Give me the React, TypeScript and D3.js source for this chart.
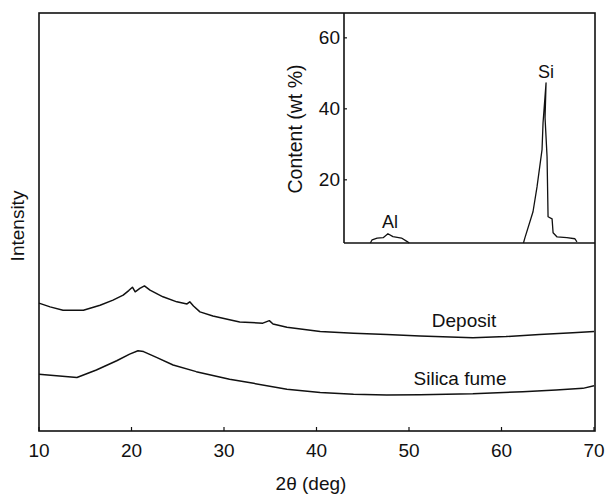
import React from 'react'
import * as d3 from 'd3'

// XRD patterns, 2theta (deg) vs. intensity (arb. units)
const depositTheta = [10, 11.2, 12.6, 14.8, 16.6, 18.0, 19.1, 19.7, 20.1, 20.4, 20.9, 21.4, 22.0, 23.4, 24.9, 26.0, 26.3, 26.7, 27.4, 28.8, 30.6, 31.7, 34.2, 34.9, 35.3, 36.8, 40.4, 44.0, 47.6, 51.2, 56.9, 60.5, 64.1, 67.7, 70]
const depositIntensity = [30.6, 29.7, 28.9, 28.9, 30.1, 31.3, 32.5, 33.6, 34.4, 33.3, 34.1, 34.7, 33.7, 32.1, 30.9, 30.4, 30.9, 29.9, 28.5, 27.5, 26.6, 26.1, 25.8, 26.4, 25.6, 24.8, 23.8, 23.4, 23.1, 22.7, 22.3, 22.6, 23.1, 23.5, 23.8]

const fumeTheta = [10, 11.9, 14.1, 16.2, 18.4, 19.8, 20.7, 21.3, 22.7, 24.5, 27.0, 30.6, 33.2, 36.8, 40.4, 44.0, 47.6, 51.2, 56.9, 62.3, 65.9, 68.8, 70]
const fumeIntensity = [13.6, 13.2, 12.8, 14.6, 16.8, 18.4, 19.2, 19.0, 17.6, 15.8, 14.2, 12.4, 11.4, 10.0, 9.2, 8.8, 8.6, 8.7, 8.9, 9.4, 9.8, 10.2, 10.8]

const thetaTicks = [10, 20, 30, 40, 50, 60, 70]

// inset: EDX composition scan (position in arb. units vs wt %)
const scanPos = [10.5, 11.2, 13.2, 15.6, 17.5, 19.5, 22.9, 25.2, 26.0, 71.5, 72.1, 75.3, 76.9, 78.9, 79.3, 80.5, 80.1, 80.9, 81.3, 82.9, 83.3, 84.9, 88.8, 92.0, 92.8]
const scanContent = [2.2, 3.1, 3.6, 3.7, 4.8, 4.0, 3.6, 2.6, 2.2, 2.2, 3.7, 11.0, 18.0, 28.5, 36.1, 47.3, 37.5, 26.5, 9.6, 9.0, 5.1, 3.9, 3.7, 3.4, 2.5]
const contentTicks = [20, 40, 60]

const font = 'Liberation Sans, Arial, Helvetica, sans-serif'

export default function App() {
  const width = 606
  const height = 496
  const left = 39, right = 595, top = 13, bottom = 431
  const insetLeft = 344, insetBottom = 243

  const x = d3.scaleLinear().domain([10, 70]).range([left, right - 1])
  const y = d3.scaleLinear().domain([0, 100]).range([bottom, top])

  const ix = d3.scaleLinear().domain([0, 100]).range([insetLeft, right])
  const iy = d3.scaleLinear().domain([2.2, 67]).range([insetBottom, top])

  const line = d3.line<[number, number]>()
    .x(d => x(d[0]))
    .y(d => y(d[1]))

  const insetLine = d3.line<[number, number]>()
    .x(d => ix(d[0]))
    .y(d => iy(d[1]))

  const deposit = depositTheta.map((t, i) => [t, depositIntensity[i]] as [number, number])
  const fume = fumeTheta.map((t, i) => [t, fumeIntensity[i]] as [number, number])
  const alScan = scanPos.slice(0, 9).map((p, i) => [p, scanContent[i]] as [number, number])
  const siScan = scanPos.slice(9).map((p, i) => [p, scanContent[i + 9]] as [number, number])

  return (
    <svg width={width} height={height} style={{ position: 'absolute', left: 0, top: 0 }} fontFamily={font}>
      <rect width={width} height={height} fill="#fff" />

      {/* main frame */}
      <rect x={left} y={top} width={right - left} height={bottom - top} fill="none" stroke="#111" strokeWidth={1.6} />
      {thetaTicks.map(t => (
        <g key={t}>
          <line x1={x(t)} x2={x(t)} y1={bottom} y2={bottom - 4} stroke="#111" strokeWidth={1.2} />
          <text x={x(t)} y={457} textAnchor="middle" fontSize={19} fill="#111">{t}</text>
        </g>
      ))}
      <text x={311} y={490} textAnchor="middle" fontSize={19} fill="#111">2θ (deg)</text>
      <text transform="translate(24,226) rotate(-90)" textAnchor="middle" fontSize={19} fill="#111">Intensity</text>

      <path d={line(deposit) ?? ''} fill="none" stroke="#111" strokeWidth={1.5} strokeLinejoin="round" />
      <path d={line(fume) ?? ''} fill="none" stroke="#111" strokeWidth={1.5} strokeLinejoin="round" />
      <text x={464} y={327} textAnchor="middle" fontSize={19} fill="#111">Deposit</text>
      <text x={460} y={385} textAnchor="middle" fontSize={19} fill="#111">Silica fume</text>

      {/* inset */}
      <line x1={insetLeft} x2={insetLeft} y1={top} y2={insetBottom} stroke="#111" strokeWidth={1.6} />
      <line x1={insetLeft} x2={right} y1={insetBottom} y2={insetBottom} stroke="#111" strokeWidth={1.6} />
      {contentTicks.map(t => (
        <g key={t}>
          <line x1={insetLeft} x2={insetLeft + 3} y1={iy(t)} y2={iy(t)} stroke="#111" strokeWidth={1.2} />
          <text x={insetLeft - 4} y={iy(t)} dy="0.35em" textAnchor="end" fontSize={19} fill="#111">{t}</text>
        </g>
      ))}
      <text transform="translate(302,129) rotate(-90)" textAnchor="middle" fontSize={19.5} fill="#111">Content (wt %)</text>
      <path d={insetLine(alScan) ?? ''} fill="none" stroke="#111" strokeWidth={1.3} strokeLinejoin="round" />
      <path d={insetLine(siScan) ?? ''} fill="none" stroke="#111" strokeWidth={1.3} strokeLinejoin="round" />
      <text x={390} y={228} textAnchor="middle" fontSize={18} fill="#111">Al</text>
      <text x={546} y={78} textAnchor="middle" fontSize={18} fill="#111">Si</text>
    </svg>
  )
}
